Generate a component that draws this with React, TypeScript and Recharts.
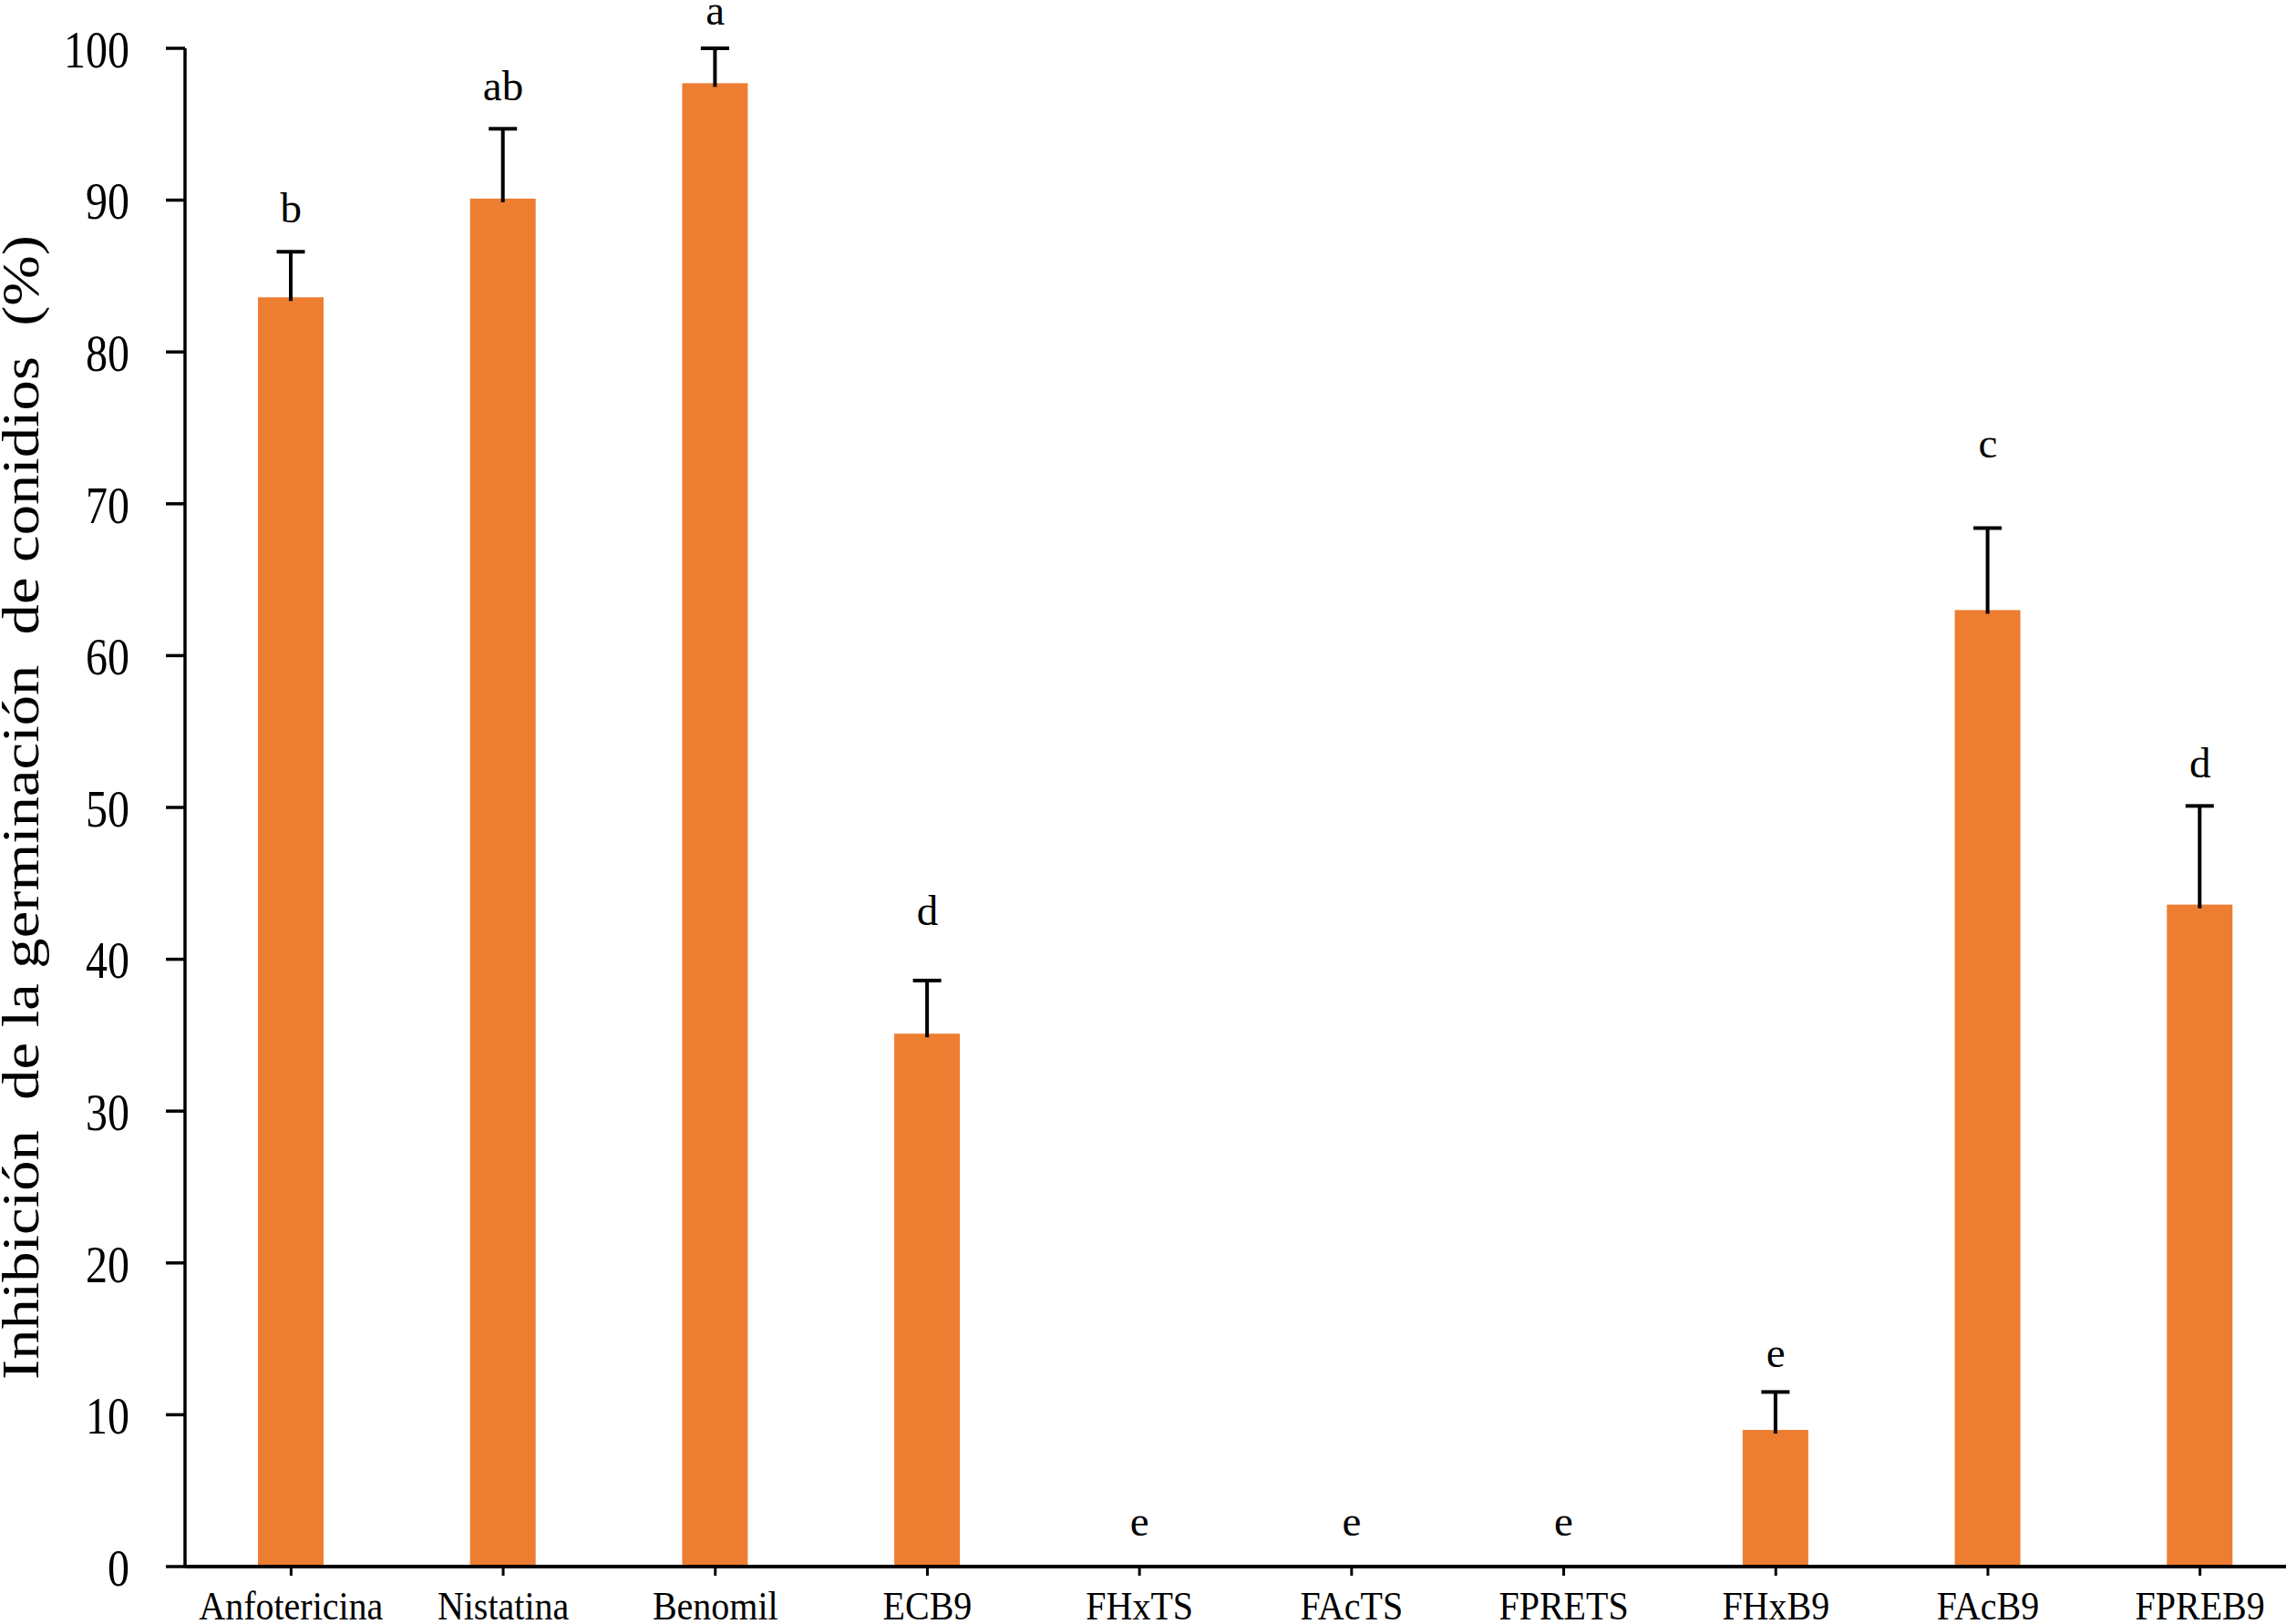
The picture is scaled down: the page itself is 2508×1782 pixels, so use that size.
import React from 'react';
import { BarChart, Bar, XAxis, YAxis, ReferenceDot, Label } from 'recharts';

const categories = ['Anfotericina', 'Nistatina', 'Benomil', 'ECB9', 'FHxTS', 'FAcTS', 'FPRETS', 'FHxB9', 'FAcB9', 'FPREB9'];
const inhibition = [83.6, 90.1, 97.7, 35.1, 0, 0, 0, 9.0, 63.0, 43.6];
const errUp = [3.0, 4.6, 2.3, 3.5, 0, 0, 0, 2.5, 5.4, 6.5];
const letters = ['b', 'ab', 'a', 'd', 'e', 'e', 'e', 'e', 'c', 'd'];
const letterAt = [89.4, 97.4, 102.4, 43.1, 2.9, 2.9, 2.9, 14.0, 73.9, 52.8];
const yTicks = [0, 10, 20, 30, 40, 50, 60, 70, 80, 90, 100];

const data = categories.map((name, i) => ({
  name,
  inhibition: inhibition[i],
  errUp: errUp[i],
}));

const FONT = '"Liberation Serif", "Times New Roman", serif';
const ORANGE = '#ED7D31';

// bar plus an upper-only error whisker, scaled from the bar's own height
const BarWithError = (props: any) => {
  const { x, y, width, height, payload } = props;
  const cx = x + width / 2;
  const perUnit = payload.inhibition > 0 ? height / payload.inhibition : 0;
  const top = y - payload.errUp * perUnit;
  return (
    <g>
      <rect x={x} y={y} width={width} height={height} fill={ORANGE} />
      {payload.errUp > 0 && (
        <g stroke="#000" strokeWidth={4}>
          <line x1={cx} x2={cx} y1={y + 4} y2={top} />
          <line x1={cx - 15.5} x2={cx + 15.5} y1={top} y2={top} />
        </g>
      )}
    </g>
  );
};

const YTick = ({ x, y, payload }: any) => (
  <text
    transform={`translate(${x},${y}) scale(1,1.2)`}
    textAnchor="end"
    dy="0.36em"
    fontSize={48}
    fontFamily={FONT}
    fill="#000"
  >
    {payload.value}
  </text>
);

const XTick = ({ x, y, payload }: any) => (
  <text
    transform={`translate(${x},${y + 48}) scale(1,1.13)`}
    textAnchor="middle"
    fontSize={40}
    fontFamily={FONT}
    fill="#000"
  >
    {payload.value}
  </text>
);

const YTitle = ({ viewBox }: any) => {
  const cx = viewBox.x + 42;
  const cy = viewBox.y + viewBox.height / 2;
  return (
    <text
      x={cx}
      y={cy}
      transform={`rotate(-90, ${cx}, ${cy})`}
      textAnchor="middle"
      fontSize={56}
      fontFamily={FONT}
      fill="#000"
      textLength={1256}
      lengthAdjust="spacingAndGlyphs"
      style={{ whiteSpace: 'pre' }}
    >
      {'Inhibición  de la germinación  de conidios  (%)'}
    </text>
  );
};

const App = () => {
  return (
    <div
      style={{
        position: 'absolute',
        left: 0,
        top: 0,
        width: 2508,
        height: 1782,
        overflow: 'hidden',
        background: '#fff',
      }}
    >
      <BarChart
        width={2540}
        height={1782}
        data={data}
        margin={{ top: 53, right: 10, bottom: 0, left: 0 }}
      >
        <XAxis
          dataKey="name"
          height={63}
          tickSize={10}
          tickMargin={0}
          tick={<XTick />}
          interval={0}
          axisLine={{ stroke: '#000', strokeWidth: 4 }}
          tickLine={{ stroke: '#000', strokeWidth: 3 }}
        />
        <YAxis
          type="number"
          domain={[0, 100]}
          ticks={yTicks}
          width={203}
          tickSize={21}
          tickMargin={40}
          tick={<YTick />}
          interval={0}
          axisLine={{ stroke: '#000', strokeWidth: 3.5 }}
          tickLine={{ stroke: '#000', strokeWidth: 3.5 }}
        >
          <Label content={<YTitle />} />
        </YAxis>
        <Bar
          dataKey="inhibition"
          barSize={72}
          fill={ORANGE}
          shape={<BarWithError />}
          isAnimationActive={false}
        />
        {categories.map((name, i) => (
          <ReferenceDot
            key={`letter-${i}`}
            x={name}
            y={letterAt[i]}
            r={0}
            ifOverflow="visible"
            shape={(p: any) => (
              <text
                x={p.cx}
                y={p.cy}
                dy="0.3em"
                textAnchor="middle"
                fontSize={47}
                fontFamily={FONT}
                fill="#000"
              >
                {letters[i]}
              </text>
            )}
          />
        ))}
      </BarChart>
    </div>
  );
};

export default App;
